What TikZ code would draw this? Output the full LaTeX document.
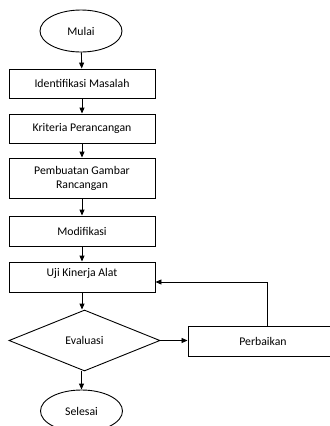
\documentclass[tikz,border=0pt]{standalone}
\usepackage{fontspec}
\setmainfont{Carlito}
\usetikzlibrary{shapes.geometric,arrows.meta}

\tikzset{
  kotak/.style={draw, rectangle, minimum width=146bp, minimum height=29bp, inner sep=2bp},
  oval/.style={draw, ellipse, minimum width=82bp, minimum height=42bp, inner sep=0pt},
  cek/.style={draw, diamond, minimum width=151bp, minimum height=61bp, inner sep=0pt, aspect=2.5},
}

\begin{document}
\begin{tikzpicture}[x=1bp, y=-1bp, >={Triangle[length=6bp,width=5bp]},
  line width=0.9bp, font=\fontsize{11.8}{14}\selectfont]
\useasboundingbox (0,0) rectangle (330,426);

% mulai dan langkah-langkah
\node[oval] (mulai) at (81,31) {Mulai};
\node[kotak] (identifikasi) at (82,83.5) {Identifikasi Masalah};
\node[kotak] (kriteria) at (82,128.5) {Kriteria Perancangan};
\node[kotak, minimum height=40bp, align=center] (pembuatan) at (82,178) {Pembuatan Gambar\\Rancangan};
\node[kotak, minimum height=30bp] (modifikasi) at (82,231) {Modifikasi};
\node[kotak, minimum height=30bp, text depth=10bp] (uji) at (82,277) {Uji Kinerja Alat};

% evaluasi, perbaikan, selesai
\node[cek] (evaluasi) at (84.5,340.5) {Evaluasi};
\node[kotak, minimum width=150bp, minimum height=30bp] (perbaikan) at (263,341) {Perbaikan};
\node[oval] (selesai) at (81.5,411) {Selesai};

% alur utama
\draw[->] (mulai) -- (identifikasi);
\draw[->] (identifikasi) -- (kriteria);
\draw[->] (kriteria) -- (pembuatan);
\draw[->] (pembuatan) -- (modifikasi);
\draw[->] (modifikasi) -- (uji);
\draw[->] (uji.south) -- (uji.south |- evaluasi.north);
\draw[->] (evaluasi.east) -- (evaluasi.east -| perbaikan.west);
\draw[->] (selesai.north |- evaluasi.south) -- (selesai.north);

% kembali ke uji kinerja
\coordinate (balik) at (267,282);
\draw[->] (perbaikan.north -| balik) -- (balik) -- (balik -| uji.east);

\end{tikzpicture}
\end{document}
